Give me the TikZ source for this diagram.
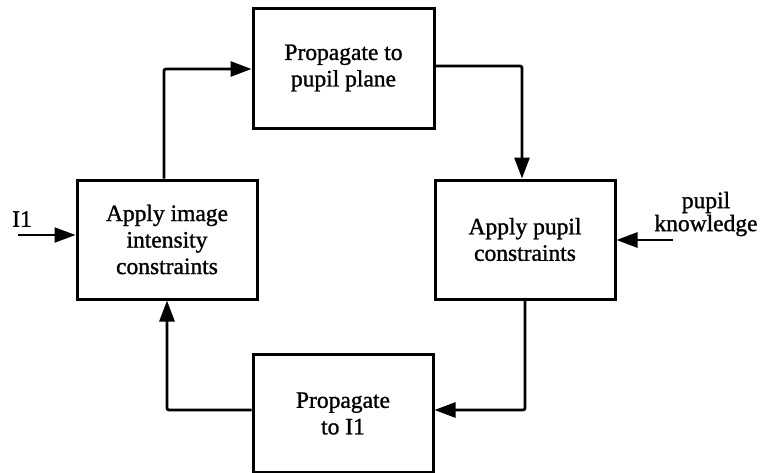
\documentclass[tikz,border=0pt]{standalone}
\usepackage{fontspec}
\setmainfont[FakeBold=1.2]{Liberation Serif}
\usetikzlibrary{arrows.meta}
\begin{document}
\begin{tikzpicture}[x=1pt,y=-1pt,
  box/.style={draw,line width=3pt,align=center,inner sep=0pt,
    font=\fontsize{23.5}{26.5}\selectfont},
  conn/.style={line width=2.8pt,rounded corners=2pt,
    -{Triangle[length=21pt,width=15pt]}},
  lab/.style={font=\fontsize{23.5}{23}\selectfont,align=center,inner sep=0pt}]
\useasboundingbox (0,0) rectangle (764,472);
\begin{scope}
\clip (0,0) rectangle (764,472);
\node[box,minimum width=181pt,minimum height=120pt] (top) at (343.5,68)
  {Propagate to\\pupil plane};
\node[box,minimum width=180pt,minimum height=119pt] (left) at (167,239.5)
  {Apply image\\intensity\\constraints};
\node[box,minimum width=180pt,minimum height=119pt] (right) at (525,239.5)
  {Apply pupil\\constraints};
\node[box,minimum width=180pt,minimum height=118pt] (bottom) at (343,413.5)
  {Propagate\\to I1};
\end{scope}
\node[lab] (i1lab) at (22,219) {I1};
\node[lab] (pklab) at (706,214) {pupil\\knowledge};
\coordinate (i1) at (18,235);
\coordinate (pk) at (673,240);
\draw[conn] ([xshift=-3pt]left.north) |- ([yshift=-1pt]top.west);
\draw[conn] ([yshift=2pt]top.east) -| ([xshift=-3pt]right.north);
\draw[conn] (right.south) |- ([yshift=3.5pt]bottom.east);
\draw[conn] ([yshift=3.5pt]bottom.west) -| (left.south);
\draw[conn,line width=2.2pt] (i1) -- (i1 -| left.west);
\draw[conn] (pk) -- (pk -| right.east);
\end{tikzpicture}
\end{document}
